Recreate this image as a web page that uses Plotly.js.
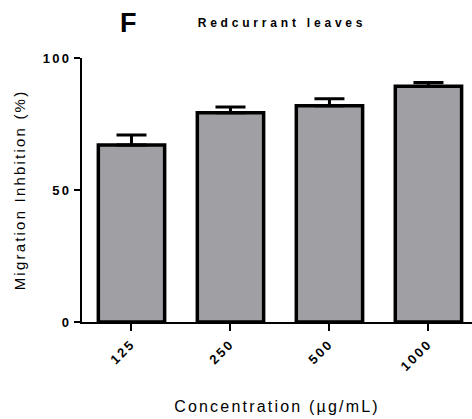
<!DOCTYPE html>
<html>
<head>
<meta charset="utf-8">
<script src="https://cdn.plot.ly/plotly-3.0.1.min.js"></script>
<style>
  html, body { margin:0; padding:0; background:#fff; }
  #chart { width:472px; height:419px; }
  .xtick text, .ytick text { letter-spacing: 2.3px; }
  text.xtitle, text.ytitle { letter-spacing: 2.2px; }
  text.gtitle { letter-spacing: 3.8px; }
</style>
</head>
<body>
<div id="chart"></div>
<script>
const categories = ["125", "250", "500", "1000"];
const meanValues = [67.0, 79.3, 81.9, 89.3];
const errorUpper = [3.8, 2.1, 2.7, 1.4];
const yTickValues = [0, 50, 100];
const yTickLabels = ["0", "50", "100"];
const titleText = "Redcurrant leaves";
const panelLetter = "F";
const xTitle = "Concentration (µg/mL)";
const yTitle = "Migration Inhbition (%)";

const FONT = "Liberation Sans, Arial, sans-serif";

const trace = {
  type: "bar",
  x: categories,
  y: meanValues,
  width: 0.67,
  marker: { color: "#a09fa4", line: { color: "#000", width: 3.5 } },
  error_y: {
    type: "data", symmetric: false,
    array: errorUpper, arrayminus: errorUpper.map(() => 0),
    color: "#000", thickness: 3, width: 15
  },
  hoverinfo: "none"
};

const layout = {
  width: 472, height: 419,
  margin: { l: 82, r: 0, t: 58, b: 97, pad: 0 },
  paper_bgcolor: "#fff", plot_bgcolor: "#fff",
  showlegend: false,
  font: { family: FONT, color: "#000" },
  title: {
    text: "<b>" + titleText + "</b>",
    font: { family: FONT, size: 12, color: "#000" },
    x: 282 / 472, xanchor: "center", xref: "container",
    y: 1 - 23 / 419, yanchor: "middle", yref: "container"
  },
  xaxis: {
    type: "category",
    range: [-0.5, 3.44],
    showline: true, linecolor: "#000", linewidth: 2,
    ticks: "outside", ticklen: 7, tickwidth: 2, tickcolor: "#000",
    tickangle: -45,
    tickfont: { family: FONT, size: 13, color: "#000", weight: "bold" },
    showgrid: false, zeroline: false, fixedrange: true,
    title: { text: xTitle, font: { family: FONT, size: 16, color: "#000" }, standoff: 28 }
  },
  yaxis: {
    range: [0, 100],
    tickvals: yTickValues, ticktext: yTickLabels,
    showline: true, linecolor: "#000", linewidth: 2,
    ticks: "outside", ticklen: 6, tickwidth: 2, tickcolor: "#000",
    tickfont: { family: FONT, size: 13, color: "#000", weight: "bold" },
    showgrid: false, zeroline: false, fixedrange: true,
    title: { text: yTitle, font: { family: FONT, size: 15, color: "#000" }, standoff: 14 }
  },
  annotations: [{
    text: "<b>" + panelLetter + "</b>",
    xref: "paper", yref: "paper",
    x: (128 - 82) / 390, y: 1 + (58 - 23) / 264,
    xanchor: "center", yanchor: "middle", showarrow: false,
    font: { family: FONT, size: 27, color: "#000" }
  }]
};

Plotly.newPlot("chart", [trace], layout, { staticPlot: true, displayModeBar: false });
</script>
</body>
</html>
